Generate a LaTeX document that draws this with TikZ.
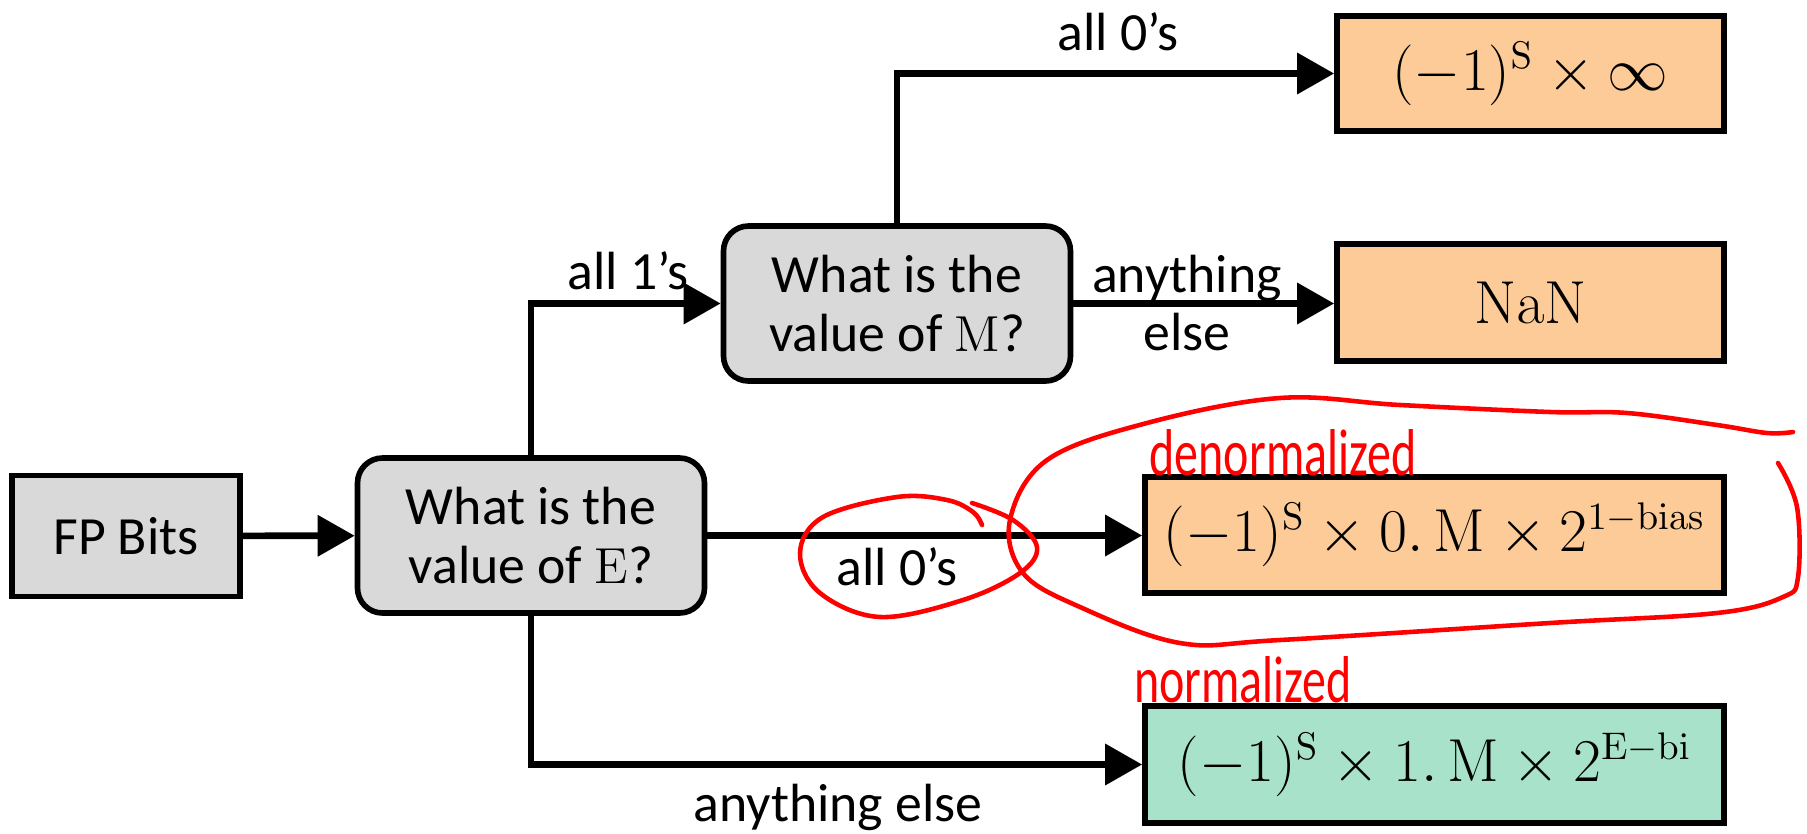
\documentclass[tikz,border=0pt]{standalone}
\usepackage[no-math]{fontspec}
\setmainfont{Carlito}
\usepackage{amsmath}
\usepackage{tikz}
\usetikzlibrary{arrows.meta}
\definecolor{fpgray}{HTML}{D9D9D9}
\definecolor{fppeach}{HTML}{FCCB98}
\definecolor{fpmint}{HTML}{A9E2CA}
\definecolor{fpred}{HTML}{FF0000}

\begin{document}
\begin{tikzpicture}[x=1cm,y=1cm,
  box/.style={draw,line width=1.6pt,minimum height=1.16cm,inner sep=0pt,align=center},
  decision/.style={box,fill=fpgray,rounded corners=0.25cm,minimum width=3.47cm,minimum height=1.55cm,
    font=\fontsize{15.3}{16.6}\selectfont},
  result/.style={box,fill=fppeach,font=\fontsize{16}{18}\selectfont},
  flow/.style={line width=1.9pt,-{Triangle[length=3.7mm,width=4mm]}},
  lbl/.style={font=\fontsize{15.3}{16.6}\selectfont,inner sep=0pt,align=center},
  scribble/.style={fpred,line width=1.3pt,line cap=round,line join=round},
  redtag/.style={text=fpred,inner sep=0pt,font=\fontsize{13}{13}\selectfont}]
  \useasboundingbox (0,0) rectangle (18.07,8.33);

  % boxes
  \node[box,fill=fpgray,minimum width=2.28cm,minimum height=1.21cm,font=\fontsize{15.3}{16.6}\selectfont]
    (bits) at (1.26,2.97) {FP Bits};
  \node[decision] (askE) at (5.31,2.975) {What is the\\value of $\mathrm{E}$?};
  \node[decision] (askM) at (8.97,5.295) {What is the\\value of $\mathrm{M}$?};
  \node[result,minimum width=3.87cm,minimum height=1.15cm] (inf) at (15.305,7.595)
    {$(-1)^{\mathrm{S}}\times\infty$};
  \node[result,minimum width=3.87cm,minimum height=1.17cm] (nan) at (15.305,5.305) {$\mathrm{NaN}$};
  \node[result,minimum width=5.79cm] (denorm) at (14.345,2.98)
    {$(-1)^{\mathrm{S}}\times 0.\,\mathrm{M}\times 2^{1-\mathrm{bias}}$};
  \node[result,fill=fpmint,minimum width=5.79cm,minimum height=1.17cm] (norm) at (14.345,0.685)
    {$(-1)^{\mathrm{S}}\times 1.\,\mathrm{M}\times 2^{\mathrm{E}-\mathrm{bi}}$};

  % connectors
  \draw[flow] (bits) -- (askE);
  \draw[flow] (askE.north) |- (askM.west);
  \draw[flow] (askM.north) |- (inf.west);
  \draw[flow] (askM.east) -- (askM.east -| nan.west);
  \draw[flow] (askE.east) -- (askE.east -| denorm.west);
  \draw[flow] (askE.south) |- (norm.west);

  % labels
  \node[lbl] (lone) at (6.28,5.62) {all 1’s};
  \node[lbl] (lzero) at (11.18,8.01) {all 0’s};
  \node[lbl] (lelse) at (11.87,5.30) {anything\\else};
  \node[lbl] (lzeroE) at (8.97,2.66) {all 0’s};
  \node[lbl] (lelseE) at (8.38,0.26) {anything else};

  % red notes
  \node[redtag] (tagden) at (12.83,3.80) {\scalebox{1.05}[1.45]{denormalized}};
  \node[redtag] (tagnor) at (12.43,1.53) {\scalebox{1.05}[1.45]{normalized}};
  \draw[scribble] plot[smooth,tension=0.6] coordinates {(9.82,3.08) (9.73,3.21) (9.47,3.33) (8.97,3.36)
    (8.23,3.16) (8.00,2.80) (8.20,2.40) (8.80,2.16) (9.63,2.33) (10.20,2.60) (10.37,2.86) (10.13,3.13) (9.72,3.30)};
  \draw[scribble] plot[smooth,tension=0.6] coordinates {(17.93,4.01) (17.67,4.00) (17.17,4.08) (16.27,4.20)
    (15.50,4.21) (14.00,4.28) (12.80,4.35) (11.47,4.10) (10.47,3.73) (10.10,3.13) (10.23,2.60) (10.80,2.26)
    (11.80,1.90) (12.80,1.93) (15.50,2.10) (17.17,2.20) (17.83,2.36) (17.98,2.56) (17.97,3.26) (17.78,3.70)};
\end{tikzpicture}
\end{document}
